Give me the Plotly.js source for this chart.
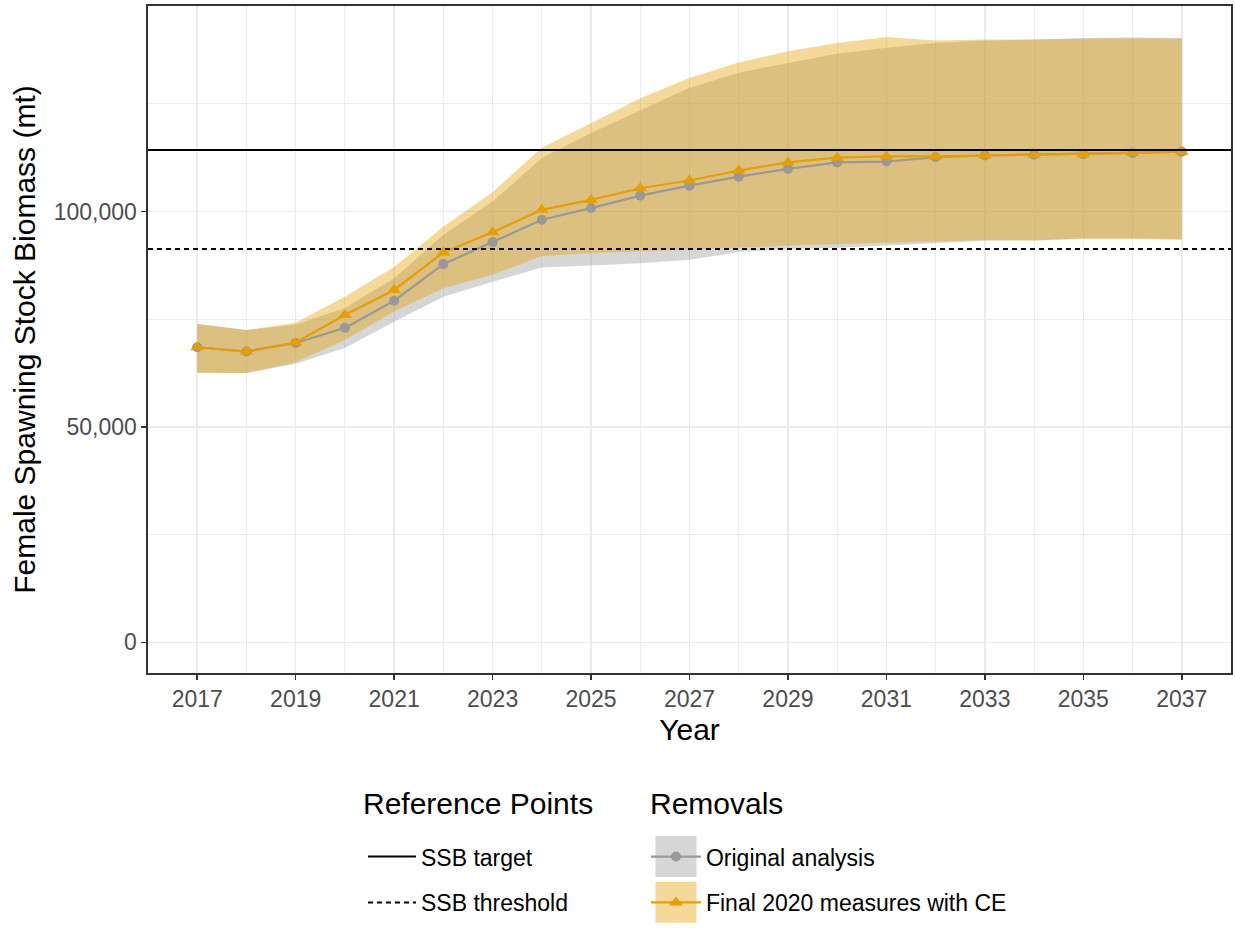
<!DOCTYPE html>
<html>
<head>
<meta charset="utf-8">
<script src="https://cdn.plot.ly/plotly-3.0.1.min.js"></script>
<style>
html, body { margin: 0; padding: 0; background: #ffffff; }
#chart { width: 1235px; height: 930px; }
</style>
</head>
<body>
<div id="chart"></div>
<script>
// ---- data ----
const years = [2017, 2018, 2019, 2020, 2021, 2022, 2023, 2024, 2025, 2026, 2027,
               2028, 2029, 2030, 2031, 2032, 2033, 2034, 2035, 2036, 2037];

const origMedian = [68500, 67500, 69500, 73000, 79300, 87800, 92900, 98100, 100800, 103700, 106000,
                    108100, 109900, 111400, 111600, 112600, 113000, 113200, 113300, 113600, 113900];
const origLower  = [62600, 62500, 64700, 68300, 74400, 80200, 83700, 87000, 87500, 88000, 88800,
                    90600, 91300, 91600, 92100, 92700, 93200, 93300, 93800, 93800, 93600];
const origUpper  = [73900, 72500, 73700, 77600, 84500, 94600, 102300, 112400, 118200, 123500, 128700,
                    132200, 134500, 136600, 138000, 139100, 139700, 139900, 140300, 140400, 140300];

const ceMedian = [68500, 67500, 69600, 76000, 81800, 90500, 95200, 100400, 102700, 105400, 107200,
                  109500, 111400, 112500, 112800, 112800, 113000, 113200, 113300, 113600, 113900];
const ceLower  = [62600, 62500, 65000, 70200, 76800, 82200, 85300, 89700, 90300, 90700, 91100,
                  91600, 92100, 92400, 92700, 93000, 93400, 93300, 93600, 93600, 93400];
const ceUpper  = [73900, 72500, 74200, 80200, 87100, 96500, 104500, 114800, 120500, 126300, 131000,
                  134600, 137200, 139100, 140500, 139700, 139900, 139900, 140100, 140200, 140100];

const seriesNames = ['Original analysis', 'Final 2020 measures with CE'];
const refNames  = ['SSB target', 'SSB threshold'];
const refValues = [114300, 91300];
const legendTitles = ['Reference Points', 'Removals'];

const xTickVals = [2017, 2019, 2021, 2023, 2025, 2027, 2029, 2031, 2033, 2035, 2037];
const yTickVals = [0, 50000, 100000];

// ---- styles ----
const GRAY = '#999999';
const ORANGE = '#E69F00';
const GRAY_FILL = 'rgba(153,153,153,0.4)';
const ORANGE_FILL = 'rgba(230,159,0,0.4)';
const GRAY_KEY = '#D6D6D6';     // gray fill over white
const ORANGE_KEY = '#F5D999';   // orange fill over white
const FONT = 'Liberation Sans, Arial, Helvetica, sans-serif';

function ribbon(lower, upper, fill) {
  return [
    { x: years, y: lower, type: 'scatter', mode: 'lines', line: { width: 0, color: fill },
      showlegend: false, hoverinfo: 'skip' },
    { x: years, y: upper, type: 'scatter', mode: 'lines', line: { width: 0, color: fill },
      fill: 'tonexty', fillcolor: fill, showlegend: false, hoverinfo: 'skip' }
  ];
}

// legend key background squares (tiled 2x2 to make a filled box)
const keyLegends = ['legend2', 'legend3', 'legend4', 'legend5'];
const keySquares = [];
keyLegends.forEach(lg => {
  [GRAY_KEY, ORANGE_KEY].forEach((c, i) => keySquares.push({
    x: [null], y: [null], type: 'scatter', mode: 'markers', name: ' ',
    marker: { symbol: 'square', size: 16, color: c, line: { width: 5, color: c } },
    legend: lg, legendgroup: lg + '_' + i, hoverinfo: 'skip'
  }));
});

const traces = [
  ...ribbon(origLower, origUpper, GRAY_FILL),
  ...ribbon(ceLower, ceUpper, ORANGE_FILL),
  { x: years, y: origMedian, type: 'scatter', mode: 'lines+markers', name: seriesNames[0],
    line: { color: GRAY, width: 2.2 }, marker: { symbol: 'circle', size: 10, color: GRAY },
    showlegend: false },
  { x: years, y: ceMedian, type: 'scatter', mode: 'lines+markers', name: seriesNames[1],
    line: { color: ORANGE, width: 2.2 }, marker: { symbol: 'triangle-up', size: 12, color: ORANGE },
    showlegend: false },
  ...keySquares,
  // legend keys (line + marker) for the Removals legend
  { x: [null], y: [null], type: 'scatter', mode: 'lines+markers', name: seriesNames[0],
    line: { color: GRAY, width: 2.2 }, marker: { symbol: 'circle', size: 10, color: GRAY },
    legend: 'legend6', legendgroup: 'o' },
  { x: [null], y: [null], type: 'scatter', mode: 'lines+markers', name: seriesNames[1],
    line: { color: ORANGE, width: 2.2 }, marker: { symbol: 'triangle-up', size: 12, color: ORANGE },
    legend: 'legend6', legendgroup: 'c' }
];

const shapes = refNames.map((n, i) => ({
  type: 'line', xref: 'paper', x0: 0, x1: 1, yref: 'y', y0: refValues[i], y1: refValues[i],
  line: { color: '#000000', width: 2, dash: i === 0 ? 'solid' : '5px,4px' },
  layer: 'above', showlegend: true, name: n, legend: 'legend', legendgroup: 'r' + i
}));

const axisCommon = {
  ticks: 'outside', ticklen: 5, tickwidth: 1.5, tickcolor: '#333333',
  tickfont: { size: 23, color: '#4D4D4D', family: FONT },
  showgrid: true, gridcolor: '#EBEBEB', gridwidth: 1.6,
  showline: true, mirror: true, linecolor: '#333333', linewidth: 1.6,
  zeroline: false, automargin: false
};

const legendCommon = {
  xanchor: 'left', y: -0.243, yanchor: 'top', orientation: 'v',
  font: { size: 23, family: FONT, color: '#000' },
  tracegroupgap: 13, traceorder: 'grouped', bgcolor: 'rgba(0,0,0,0)'
};
function keyLegend(x, y) {
  return Object.assign({}, legendCommon, { x: x, y: y, itemwidth: 30 });
}

const layout = {
  width: 1235, height: 930,
  margin: { l: 148, r: 4, t: 6, b: 257, autoexpand: false },
  paper_bgcolor: '#ffffff', plot_bgcolor: '#ffffff',
  font: { family: FONT, color: '#000000' },
  xaxis: Object.assign({}, axisCommon, {
    range: [2016, 2038], tickmode: 'array', tickvals: xTickVals,
    minor: { tickmode: 'linear', tick0: 2016, dtick: 1, showgrid: true, gridcolor: '#EBEBEB', gridwidth: 0.9, ticks: '' },
    title: { text: 'Year', font: { size: 30, family: FONT, color: '#000' }, standoff: 8 }
  }),
  yaxis: Object.assign({}, axisCommon, {
    range: [-7100, 147700], tickmode: 'array', tickvals: yTickVals, tickformat: ',d',
    minor: { tickmode: 'linear', tick0: 0, dtick: 25000, showgrid: true, gridcolor: '#EBEBEB', gridwidth: 0.9, ticks: '' },
    title: { text: 'Female Spawning Stock Biomass (mt)', font: { size: 30, family: FONT, color: '#000' }, standoff: 9 }
  }),
  shapes: shapes,
  annotations: legendTitles.map((t, i) => ({
    text: t, xref: 'paper', yref: 'paper', x: i === 0 ? 0.197 : 0.462, y: -0.195,
    xanchor: 'left', yanchor: 'middle', showarrow: false,
    font: { size: 30, family: FONT, color: '#000' }
  })),
  showlegend: true,
  legend: Object.assign({}, legendCommon, { x: 0.1985, itemwidth: 48 }),
  legend2: keyLegend(0.4598, -0.2279),
  legend3: keyLegend(0.4783, -0.2279),
  legend4: keyLegend(0.4598, -0.2579),
  legend5: keyLegend(0.4783, -0.2579),
  legend6: Object.assign({}, legendCommon, { x: 0.4598, itemwidth: 50 }),
  hovermode: false
};

Plotly.newPlot('chart', traces, layout, { displayModeBar: false, staticPlot: true });
</script>
</body>
</html>
